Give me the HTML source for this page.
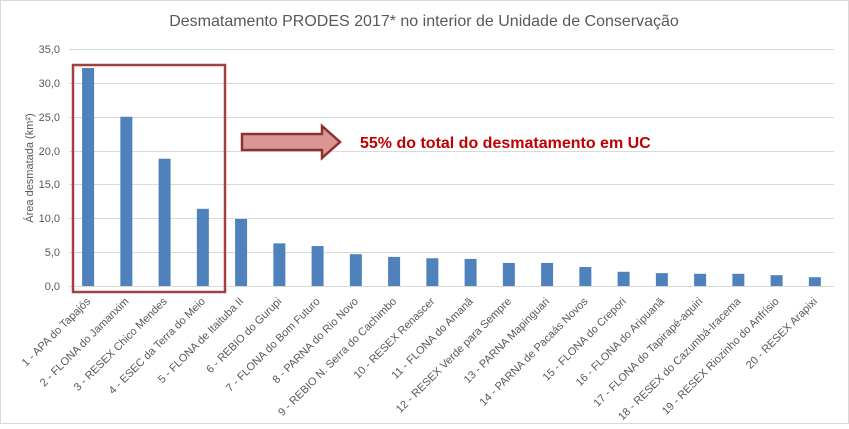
<!DOCTYPE html><html><head><meta charset="utf-8"><style>body{margin:0;background:#fff}</style></head><body>
<svg width="849" height="424" xmlns="http://www.w3.org/2000/svg" font-family="Liberation Sans, sans-serif">
<rect x="0.5" y="0.5" width="848" height="423" fill="#fff" stroke="#d9d9d9"/>
<text x="424" y="26" text-anchor="middle" font-size="16" fill="#595959">Desmatamento PRODES 2017* no interior de Unidade de Conservação</text>
<g stroke="#d9d9d9" stroke-width="1">
<line x1="69" x2="834" y1="49.5" y2="49.5"/><line x1="69" x2="834" y1="83.5" y2="83.5"/><line x1="69" x2="834" y1="117.5" y2="117.5"/><line x1="69" x2="834" y1="151.5" y2="151.5"/><line x1="69" x2="834" y1="184.5" y2="184.5"/><line x1="69" x2="834" y1="218.5" y2="218.5"/><line x1="69" x2="834" y1="252.5" y2="252.5"/><line x1="69" x2="834" y1="286.5" y2="286.5"/>
</g>
<g font-size="11" fill="#595959" text-anchor="end">
<text x="60" y="53">35,0</text><text x="60" y="87">30,0</text><text x="60" y="121">25,0</text><text x="60" y="155">20,0</text><text x="60" y="188">15,0</text><text x="60" y="222">10,0</text><text x="60" y="256">5,0</text><text x="60" y="290">0,0</text>
</g>
<text transform="translate(33,168) rotate(-90)" text-anchor="middle" font-size="11" fill="#595959">Área desmatada (km²)</text>
<g fill="#4f81bd" id="bars"></g>
<g id="labels" font-size="11" fill="#595959" text-anchor="end"></g>
<rect x="73" y="65" width="152" height="227" fill="none" stroke="#a0403f" stroke-width="2.5"/>
<polygon points="242,134 322,134 322,126 340,142 322,158 322,150 242,150" fill="#d99694" stroke="#8c3331" stroke-width="2.5"/>
<text x="360" y="148" font-size="16" font-weight="bold" fill="#c00000">55% do total do desmatamento em UC</text>
<script>
var v=[32.2,25.0,18.8,11.4,9.9,6.3,5.9,4.7,4.3,4.1,4.0,3.4,3.4,2.8,2.1,1.9,1.8,1.8,1.6,1.3];
var n=["1 - APA do Tapajós","2 - FLONA do Jamanxim","3 - RESEX Chico Mendes","4 - ESEC da Terra do Meio","5 - FLONA de Itaituba II","6 - REBIO do Gurupi","7 - FLONA do Bom Futuro","8 - PARNA do Rio Novo","9 - REBIO N. Serra do Cachimbo","10 - RESEX Renascer","11 - FLONA do Amanã","12 - RESEX Verde para Sempre","13 - PARNA Mapinguari","14 - PARNA de Pacaás Novos","15 - FLONA do Crepori","16 - FLONA do Aripuanã","17 - FLONA do Tapirapé-aquiri","18 - RESEX do Cazumbá-Iracema","19 - RESEX Riozinho do Anfrísio","20 - RESEX Arapixi"];
var ns="http://www.w3.org/2000/svg",b=document.getElementById("bars"),l=document.getElementById("labels");
for(var i=0;i<20;i++){var c=88.1+i*38.25,h=v[i]*6.77;
var r=document.createElementNS(ns,"rect");r.setAttribute("x",c-6);r.setAttribute("y",286-h);r.setAttribute("width",12);r.setAttribute("height",h);b.appendChild(r);
var t=document.createElementNS(ns,"text");t.setAttribute("transform","translate("+(c+3)+",302) rotate(-45)");t.textContent=n[i];l.appendChild(t);}
</script>
</svg></body></html>
